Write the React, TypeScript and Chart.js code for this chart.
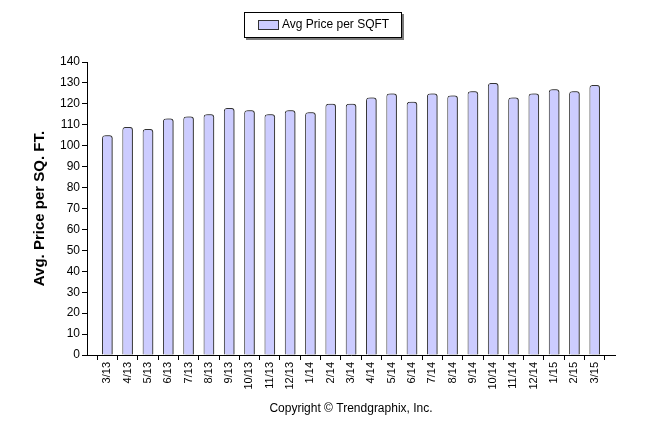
import { useEffect, useRef } from "react";
import { Chart, registerables } from "chart.js";

Chart.register(...registerables);

const categories = [
  "3/13", "4/13", "5/13", "6/13", "7/13", "8/13", "9/13", "10/13", "11/13", "12/13",
  "1/14", "2/14", "3/14", "4/14", "5/14", "6/14", "7/14", "8/14", "9/14", "10/14", "11/14", "12/14",
  "1/15", "2/15", "3/15",
];
const avgPricePerSqft = [
  105, 109, 108, 113, 114, 115, 118, 117, 115, 117,
  116, 120, 120, 123, 125, 121, 125, 124, 126, 130, 123, 125,
  127, 126, 129,
];
const seriesLabel = "Avg Price per SQFT";
const yTitle = "Avg. Price per SQ. FT.";
const copyright = "Copyright \u00A9 Trendgraphix, Inc.";

const FONT = "'Liberation Sans', Arial, sans-serif";
const FILL = "#ccccff";
const EDGE = "#333333";

const shadowPlugin = {
  id: "barShadow",
  beforeDatasetsDraw(chart: any) {
    const ctx = chart.ctx;
    ctx.save();
    ctx.shadowColor = "rgba(60,60,60,0.75)";
    ctx.shadowOffsetX = 2;
    ctx.shadowOffsetY = 0;
    ctx.shadowBlur = 0;
  },
  afterDatasetsDraw(chart: any) {
    chart.ctx.restore();
  },
};

const legendPlugin = {
  id: "boxLegend",
  afterDraw(chart: any) {
    const ctx = chart.ctx;
    const ds = chart.data.datasets[0];
    ctx.save();
    ctx.fillStyle = "#7a7a7a";
    ctx.fillRect(246, 14, 158, 26);
    ctx.fillStyle = "#ffffff";
    ctx.fillRect(244, 12, 158, 26);
    ctx.strokeStyle = "#000000";
    ctx.lineWidth = 1;
    ctx.strokeRect(244.5, 12.5, 157, 25);
    ctx.fillStyle = ds.backgroundColor;
    ctx.fillRect(258, 20, 20, 9);
    ctx.strokeStyle = EDGE;
    ctx.strokeRect(258.5, 20.5, 20, 9);
    ctx.fillStyle = "#000000";
    ctx.font = `12px ${FONT}`;
    ctx.textBaseline = "middle";
    ctx.textAlign = "left";
    ctx.fillText(ds.label, 282, 25);
    ctx.restore();
  },
};

export default function App() {
  const ref = useRef<HTMLCanvasElement | null>(null);

  useEffect(() => {
    if (!ref.current) return;
    const chart = new Chart(ref.current, {
      type: "bar",
      data: {
        datasets: [
          {
            label: seriesLabel,
            data: categories.map((c, i) => ({ x: i + 1, y: avgPricePerSqft[i] })),
            backgroundColor: FILL,
            borderColor: EDGE,
            borderWidth: 1,
            borderSkipped: "bottom",
            borderRadius: { topLeft: 3, topRight: 3, bottomLeft: 0, bottomRight: 0 },
            barPercentage: 0.52,
            categoryPercentage: 1,
          } as any,
        ],
      },
      options: {
        responsive: false,
        animation: false,
        devicePixelRatio: 1,
        layout: { padding: { left: 31, right: 31, top: 62, bottom: 18 } },
        plugins: {
          legend: { display: false },
          tooltip: { enabled: false },
        },
        scales: {
          x: {
            type: "linear",
            min: 0,
            max: categories.length + 1,
            offset: false,
            ticks: {
              stepSize: 1,
              autoSkip: false,
              maxRotation: 90,
              minRotation: 90,
              color: "#000000",
              padding: 2,
              font: { family: FONT, size: 11 },
              callback: (v: any) => categories[Number(v) - 1] ?? "",
            },
            grid: {
              display: true,
              drawOnChartArea: false,
              drawTicks: true,
              tickLength: 5,
              color: "#000000",
            },
            border: { display: true, color: "#000000", width: 1 },
            title: {
              display: true,
              text: copyright,
              color: "#000000",
              font: { family: FONT, size: 12 },
              padding: 0,
            },
            afterFit(scale: any) {
              scale.height = 61;
            },
          } as any,
          y: {
            min: 0,
            max: 140,
            ticks: {
              stepSize: 10,
              color: "#000000",
              padding: 2,
              font: { family: FONT, size: 12 },
            },
            grid: {
              display: true,
              drawOnChartArea: false,
              drawTicks: true,
              tickLength: 5,
              color: "#000000",
            },
            border: { display: true, color: "#000000", width: 1 },
            title: {
              display: true,
              text: yTitle,
              color: "#000000",
              font: { family: FONT, size: 15, weight: "bold" },
              padding: 0,
            },
            afterFit(scale: any) {
              scale.width = 56;
            },
          } as any,
        },
      },
      plugins: [shadowPlugin, legendPlugin],
    });
    return () => chart.destroy();
  }, []);

  return (
    <div style={{ position: "absolute", left: 0, top: 0, width: 646, height: 434, background: "#ffffff" }}>
      <canvas ref={ref} width={646} height={434} style={{ width: 646, height: 434, display: "block" }} />
    </div>
  );
}
